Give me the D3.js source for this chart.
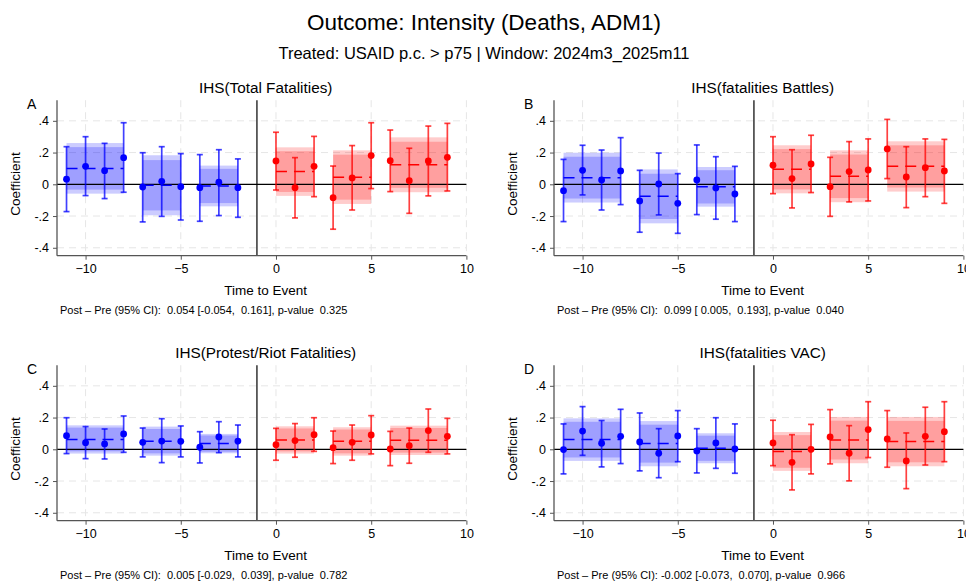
<!DOCTYPE html>
<html>
<head>
<meta charset="utf-8">
<script src="https://cdn.jsdelivr.net/npm/d3@7"></script>
<style>
  html, body { margin: 0; padding: 0; background: #fff; }
  svg { display: block; font-family: "Liberation Sans", Arial, Helvetica, sans-serif; }
</style>
</head>
<body>
<svg id="chart" width="966" height="581"></svg>
<script>
// Event time (t = -1 is the omitted reference period)
const eventTime = [-11, -10, -9, -8, -7, -6, -5, -4, -3, -2, 0, 1, 2, 3, 4, 5, 6, 7, 8, 9];

// Pooled bins: [first, last] event time of each bin
const binSpans = [[-11, -8], [-7, -5], [-4, -2], [0, 2], [3, 5], [6, 9]];

const xTicks = [-10, -5, 0, 5, 10];
const yTicks = [-0.4, -0.2, 0, 0.2, 0.4];
const yTickLabels = ["-.4", "-.2", "0", ".2", ".4"];

// A: IHS(Total Fatalities)
const coefA = [0.032, 0.113, 0.086, 0.168, -0.017, 0.019, -0.015, -0.021, 0.013, -0.021,
               0.147, -0.021, 0.113, -0.084, 0.040, 0.181, 0.149, 0.023, 0.147, 0.170];
const lowA  = [-0.172, -0.071, -0.090, -0.050, -0.237, -0.202, -0.225, -0.233, -0.197, -0.208,
               -0.036, -0.212, -0.078, -0.283, -0.162, -0.027, -0.046, -0.183, -0.073, -0.042];
const highA = [0.237, 0.300, 0.258, 0.388, 0.199, 0.237, 0.193, 0.187, 0.218, 0.160,
               0.328, 0.168, 0.302, 0.115, 0.244, 0.388, 0.342, 0.227, 0.367, 0.384];
const binEstA  = [0.100, -0.006, -0.010, 0.080, 0.045, 0.123];
const binLowA  = [-0.059, -0.195, -0.139, -0.073, -0.124, -0.050];
const binHighA = [0.260, 0.183, 0.118, 0.233, 0.214, 0.296];

// B: IHS(fatalities Battles)
const coefB = [-0.040, 0.088, 0.027, 0.084, -0.105, 0.002, -0.120, 0.027, -0.023, -0.061,
               0.120, 0.036, 0.128, -0.015, 0.080, 0.090, 0.223, 0.046, 0.105, 0.084];
const lowB  = [-0.235, -0.067, -0.162, -0.128, -0.302, -0.193, -0.309, -0.191, -0.220, -0.235,
               -0.059, -0.149, -0.052, -0.202, -0.111, -0.105, 0.036, -0.147, -0.078, -0.120];
const highB = [0.157, 0.246, 0.216, 0.294, 0.088, 0.197, 0.067, 0.248, 0.174, 0.113,
               0.300, 0.218, 0.309, 0.170, 0.269, 0.286, 0.409, 0.237, 0.286, 0.283];
const binEstB  = [0.042, -0.076, -0.016, 0.095, 0.050, 0.113];
const binLowB  = [-0.115, -0.246, -0.141, -0.057, -0.113, -0.046];
const binHighB = [0.199, 0.094, 0.109, 0.246, 0.214, 0.271];

// C: IHS(Protest/Riot Fatalities)
const coefC = [0.086, 0.042, 0.034, 0.097, 0.044, 0.052, 0.050, 0.013, 0.078, 0.052,
               0.029, 0.055, 0.092, 0.010, 0.044, 0.090, 0.002, 0.023, 0.118, 0.082];
const lowC  = [-0.027, -0.059, -0.061, -0.019, -0.048, -0.084, -0.048, -0.086, -0.021, -0.048,
               -0.069, -0.050, -0.013, -0.090, -0.069, -0.029, -0.103, -0.088, -0.019, -0.029];
const highC = [0.199, 0.143, 0.128, 0.210, 0.134, 0.193, 0.147, 0.111, 0.174, 0.153,
               0.132, 0.162, 0.199, 0.115, 0.153, 0.212, 0.113, 0.134, 0.254, 0.195];
const binEstC  = [0.062, 0.050, 0.036, 0.059, 0.050, 0.057];
const binLowC  = [-0.027, -0.040, -0.025, -0.027, -0.040, -0.036];
const binHighC = [0.151, 0.143, 0.097, 0.145, 0.139, 0.149];

// D: IHS(fatalities VAC)
const coefD = [-0.002, 0.115, 0.038, 0.082, 0.046, -0.025, 0.084, -0.010, 0.040, 0.002,
               0.040, -0.082, 0.000, 0.078, -0.025, 0.124, 0.065, -0.073, 0.082, 0.111];
const lowD  = [-0.155, -0.038, -0.111, -0.090, -0.136, -0.179, -0.078, -0.149, -0.120, -0.151,
               -0.103, -0.256, -0.155, -0.092, -0.199, -0.052, -0.113, -0.248, -0.099, -0.078];
const highD = [0.160, 0.269, 0.181, 0.252, 0.229, 0.130, 0.244, 0.130, 0.199, 0.160,
               0.183, 0.092, 0.157, 0.250, 0.149, 0.300, 0.244, 0.103, 0.265, 0.300];
const binEstD  = [0.061, 0.036, 0.007, -0.014, 0.058, 0.049];
const binLowD  = [-0.073, -0.107, -0.088, -0.136, -0.088, -0.107];
const binHighD = [0.195, 0.178, 0.101, 0.109, 0.204, 0.204];

const panelTitles = ["IHS(Total Fatalities)", "IHS(fatalities Battles)",
                     "IHS(Protest/Riot Fatalities)", "IHS(fatalities VAC)"];
const panelLetters = ["A", "B", "C", "D"];
const panelNotes = [
  "Post \u2013 Pre (95% CI):  0.054 [-0.054,  0.161], p-value  0.325",
  "Post \u2013 Pre (95% CI):  0.099 [ 0.005,  0.193], p-value  0.040",
  "Post \u2013 Pre (95% CI):  0.005 [-0.029,  0.039], p-value  0.782",
  "Post \u2013 Pre (95% CI): -0.002 [-0.073,  0.070], p-value  0.966"
];

const panelData = [
  {coef: coefA, low: lowA, high: highA, binEst: binEstA, binLow: binLowA, binHigh: binHighA},
  {coef: coefB, low: lowB, high: highB, binEst: binEstB, binLow: binLowB, binHigh: binHighB},
  {coef: coefC, low: lowC, high: highC, binEst: binEstC, binLow: binLowC, binHigh: binHighC},
  {coef: coefD, low: lowD, high: highD, binEst: binEstD, binLow: binLowD, binHigh: binHighD}
];

// ratio of 90% to 95% normal critical values, for the inner band
const z90over95 = 1.645 / 1.96;

const svg = d3.select("#chart");

svg.append("text").attr("x", 484).attr("y", 30).attr("text-anchor", "middle")
  .attr("font-size", 22.5).attr("fill", "#000").text("Outcome: Intensity (Deaths, ADM1)");
svg.append("text").attr("x", 484).attr("y", 59).attr("text-anchor", "middle")
  .attr("font-size", 16.5).attr("fill", "#000")
  .text("Treated: USAID p.c. > p75 | Window: 2024m3_2025m11");

const BLUE = "#0000ff", RED = "#ff0000";

function drawPanel(i) {
  const col = i % 2, row = Math.floor(i / 2);
  const dx = col * 497, dy = row * 265;
  const d = panelData[i];

  const x = d3.scaleLinear().domain([-11.5, 10]).range([57 + dx, 466.4 + dx]);
  const y = d3.scaleLinear().domain([-0.45, 0.53]).range([255.7 + dy, 100.2 + dy]);
  const [x0, x1] = x.range();
  const [yb, yt] = y.range();

  const g = svg.append("g");

  // dashed grid
  g.selectAll(".gy").data(yTicks.filter(v => v !== 0)).join("line")
    .attr("x1", x0).attr("x2", x1).attr("y1", v => y(v)).attr("y2", v => y(v))
    .attr("stroke", "#e6e6e6").attr("stroke-width", 1).attr("stroke-dasharray", "7,5");
  g.selectAll(".gx").data(xTicks).join("line")
    .attr("x1", v => x(v)).attr("x2", v => x(v)).attr("y1", yt).attr("y2", yb)
    .attr("stroke", "#e6e6e6").attr("stroke-width", 1).attr("stroke-dasharray", "7,5");

  // pooled-bin confidence bands
  const bins = binSpans.map((s, k) => ({
    t0: s[0], t1: s[1], est: d.binEst[k], lo: d.binLow[k], hi: d.binHigh[k],
    color: s[0] < 0 ? BLUE : RED
  }));
  g.selectAll(".band95").data(bins).join("rect")
    .attr("x", b => x(b.t0)).attr("width", b => x(b.t1) - x(b.t0))
    .attr("y", b => y(b.hi)).attr("height", b => y(b.lo) - y(b.hi))
    .attr("fill", b => b.color).attr("fill-opacity", 0.2);
  g.selectAll(".band90").data(bins).join("rect")
    .attr("x", b => x(b.t0)).attr("width", b => x(b.t1) - x(b.t0))
    .attr("y", b => y(b.est + (b.hi - b.est) * z90over95))
    .attr("height", b => y(b.est - (b.est - b.lo) * z90over95) - y(b.est + (b.hi - b.est) * z90over95))
    .attr("fill", b => b.color).attr("fill-opacity", 0.22);

  // zero line and reference period
  g.append("line").attr("x1", x0).attr("x2", x1).attr("y1", y(0)).attr("y2", y(0))
    .attr("stroke", "#000").attr("stroke-width", 1.3);
  g.append("line").attr("x1", x(-1)).attr("x2", x(-1)).attr("y1", yt).attr("y2", yb)
    .attr("stroke", "#000").attr("stroke-width", 1.2);

  // bin means
  g.selectAll(".binmean").data(bins).join("line")
    .attr("x1", b => x(b.t0)).attr("x2", b => x(b.t1))
    .attr("y1", b => y(b.est)).attr("y2", b => y(b.est))
    .attr("stroke", b => b.color).attr("stroke-width", 1.5).attr("stroke-dasharray", "11,7");

  // per-period estimates
  const pts = eventTime.map((t, k) => ({
    t, c: d.coef[k], lo: d.low[k], hi: d.high[k], color: t < 0 ? BLUE : RED
  }));
  const eb = g.selectAll(".eb").data(pts).join("g").attr("stroke", p => p.color)
    .attr("stroke-opacity", 0.75).attr("stroke-width", 1.7);
  eb.append("line").attr("x1", p => x(p.t)).attr("x2", p => x(p.t))
    .attr("y1", p => y(p.lo)).attr("y2", p => y(p.hi));
  eb.append("line").attr("x1", p => x(p.t) - 3).attr("x2", p => x(p.t) + 3)
    .attr("y1", p => y(p.lo)).attr("y2", p => y(p.lo));
  eb.append("line").attr("x1", p => x(p.t) - 3).attr("x2", p => x(p.t) + 3)
    .attr("y1", p => y(p.hi)).attr("y2", p => y(p.hi));
  g.selectAll(".pt").data(pts).join("circle")
    .attr("cx", p => x(p.t)).attr("cy", p => y(p.c)).attr("r", 3.4)
    .attr("fill", p => p.color);

  // axes
  const yAxis = d3.axisLeft(y).tickValues(yTicks).tickFormat((v, k) => yTickLabels[k])
    .tickSize(4).tickPadding(4);
  const ya = g.append("g").attr("transform", `translate(${x0},0)`).call(yAxis);
  ya.select(".domain").attr("stroke", "#555").attr("stroke-width", 1.3)
    .attr("d", `M0,${yb}V${yt}`);
  ya.selectAll(".tick line").attr("stroke", "#555");
  ya.selectAll("text").attr("font-size", 12.5).attr("fill", "#000")
    .attr("font-family", "'Liberation Sans', Arial, sans-serif");

  const xAxis = d3.axisBottom(x).tickValues(xTicks).tickFormat(d3.format("d"))
    .tickSize(4).tickPadding(4);
  const xa = g.append("g").attr("transform", `translate(0,${yb})`).call(xAxis);
  xa.select(".domain").attr("stroke", "#555").attr("stroke-width", 1.3)
    .attr("d", `M${x0},0H${x1}`);
  xa.selectAll(".tick line").attr("stroke", "#555");
  xa.selectAll("text").attr("font-size", 12.5).attr("fill", "#000")
    .attr("font-family", "'Liberation Sans', Arial, sans-serif");

  const cx = (x0 + x1) / 2 + 4;

  svg.append("text").attr("x", cx).attr("y", 93 + dy).attr("text-anchor", "middle")
    .attr("font-size", 15.3).attr("fill", "#000").text(panelTitles[i]);
  svg.append("text").attr("x", 27 + dx).attr("y", 109 + dy)
    .attr("font-size", 14).attr("fill", "#000").text(panelLetters[i]);
  svg.append("text")
    .attr("transform", `translate(${20 + dx},${(yt + yb) / 2 + 6}) rotate(-90)`)
    .attr("text-anchor", "middle").attr("font-size", 13.5).attr("fill", "#000").text("Coefficient");
  svg.append("text").attr("x", cx).attr("y", 295 + dy).attr("text-anchor", "middle")
    .attr("font-size", 13.5).attr("fill", "#000").text("Time to Event");
  svg.append("text").attr("x", 60 + dx).attr("y", 314 + dy)
    .attr("font-size", 11).attr("fill", "#000").attr("xml:space", "preserve")
    .style("white-space", "pre").text(panelNotes[i]);
}

for (let i = 0; i < 4; i++) drawPanel(i);
</script>
</body>
</html>
